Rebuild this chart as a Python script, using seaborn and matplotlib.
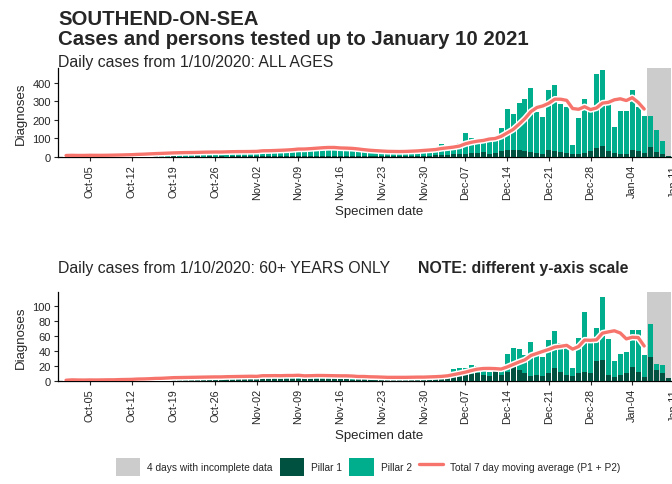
import numpy as np
import pandas as pd
import matplotlib
matplotlib.use("Agg")
import matplotlib.pyplot as plt
import matplotlib.patheffects as pe
from matplotlib.patches import Patch
from matplotlib.lines import Line2D
import seaborn as sns

# ---- data: daily diagnoses by specimen date, 1 Oct 2020 .. 10 Jan 2021 ----
start_date = "2020-10-01"
n_days = 102
incomplete_days = 4

all_pillar1 = [
    1, 1, 0, 1, 2, 1, 1, 1, 2, 1,
    2, 1, 2, 1, 2, 3, 2, 1, 3, 2,
    2, 2, 3, 2, 3, 2, 3, 2, 3, 3,
    4, 3, 5, 4, 3, 4, 5, 4, 6, 5,
    6, 5, 7, 6, 5, 6, 5, 4, 5, 4,
    4, 3, 4, 5, 4, 5, 4, 6, 5, 7,
    8, 8, 10, 12, 10, 14, 15, 18, 20, 22,
    25, 18, 20, 30, 38, 40, 36, 32, 28, 22,
    18, 38, 30, 25, 20, 15, 18, 22, 30, 50,
    58, 35, 20, 15, 18, 40, 32, 20, 55, 25,
    15, 4,
]
all_pillar2 = [
    7, 9, 7, 8, 10, 7, 8, 10, 12, 11,
    13, 17, 18, 15, 20, 22, 18, 23, 25, 24,
    20, 22, 27, 25, 25, 30, 22, 27, 27, 30,
    24, 28, 31, 43, 29, 34, 37, 34, 39, 53,
    42, 41, 48, 52, 45, 39, 35, 38, 31, 29,
    26, 25, 26, 21, 26, 27, 26, 28, 33, 33,
    36, 38, 40, 58, 48, 52, 63, 112, 83, 70,
    73, 92, 68, 127, 221, 194, 254, 281, 346, 219,
    200, 321, 358, 263, 250, 51, 195, 293, 220, 400,
    412, 265, 142, 235, 232, 319, 238, 200, 166, 123,
    73, 1,
]

old_pillar1 = [
    0, 1, 0, 0, 1, 0, 1, 0, 1, 0,
    1, 0, 1, 1, 1, 2, 1, 1, 2, 1,
    1, 2, 1, 2, 2, 1, 2, 2, 1, 2,
    2, 2, 3, 2, 2, 3, 2, 3, 2, 3,
    2, 3, 3, 2, 2, 3, 2, 2, 1, 2,
    2, 2, 1, 2, 1, 1, 2, 2, 1, 2,
    2, 2, 3, 3, 4, 6, 7, 8, 9, 10,
    8, 7, 14, 8, 12, 20, 14, 10, 6, 8,
    6, 10, 17, 12, 8, 6, 10, 12, 10, 26,
    28, 8, 5, 8, 10, 18, 12, 5, 32, 14,
    10, 4,
]
old_pillar2 = [
    1, 1, 1, 1, 1, 1, 1, 2, 1, 3,
    1, 3, 3, 2, 3, 3, 3, 4, 4, 4,
    3, 3, 5, 3, 4, 6, 3, 4, 5, 5,
    4, 5, 3, 9, 4, 4, 4, 5, 5, 5,
    4, 4, 6, 4, 5, 3, 5, 4, 4, 3,
    4, 2, 4, 3, 3, 4, 3, 4, 4, 4,
    3, 4, 4, 5, 7, 10, 10, 9, 12, 10,
    6, 5, 0, 5, 24, 24, 29, 25, 46, 25,
    26, 44, 49, 38, 36, 11, 47, 80, 42, 44,
    84, 48, 22, 28, 28, 49, 55, 29, 43, 8,
    11, 0,
]

tick_days = list(range(4, 103, 7))          # Mondays, Oct-05 .. Jan-11

# ---- style ----
P1_COL = "#00513F"
P2_COL = "#00AE8D"
GREY = "#CCCCCC"
LINE_COL = "#F6746C"
TXT = "#262626"

sns.set_style("ticks")
plt.rcParams["font.family"] = ["Liberation Sans", "DejaVu Sans"]

dates = pd.date_range(start_date, periods=n_days + 2)
day = np.arange(n_days)

W, H = 672, 485
fig = plt.figure(figsize=(W / 100, H / 100), dpi=100)

X_LEFT, X_RIGHT = -1.35, 106.3
AX_L = 58 / W
AX_W = ((X_RIGHT - X_LEFT) * 5.96) / W


def panel(top_px, bottom_px):
    return fig.add_axes([AX_L, 1 - bottom_px / H, AX_W, (bottom_px - top_px) / H])


def draw(ax, p1, p2, ymax, yticks):
    df = pd.DataFrame({"day": day, "p1": p1, "p2": p2})
    df["total"] = df["p1"] + df["p2"]
    complete = df.iloc[: n_days - incomplete_days]
    ma = complete["total"].rolling(7, min_periods=1).mean()

    ax.axvspan(n_days - incomplete_days - 0.5, n_days - 0.5, color=GREY, lw=0, zorder=0)
    sns.barplot(data=df, x="day", y="total", native_scale=True, color=P2_COL,
                saturation=1, width=0.84, errorbar=None, linewidth=0, ax=ax, zorder=2)
    sns.barplot(data=df, x="day", y="p1", native_scale=True, color=P1_COL,
                saturation=1, width=0.84, errorbar=None, linewidth=0, ax=ax, zorder=3)
    sns.lineplot(x=complete["day"].to_numpy(), y=ma.to_numpy(), color=LINE_COL, lw=2.4,
                 ax=ax, zorder=4,
                 path_effects=[pe.Stroke(linewidth=4.6, foreground="white"), pe.Normal()])

    ax.set_xlim(X_LEFT, X_RIGHT)
    ax.set_ylim(0, ymax)
    ax.set_yticks(yticks)
    ax.set_xticks(tick_days)
    ax.set_xticklabels([dates[d].strftime("%b-%d") for d in tick_days],
                       rotation=90, fontsize=7.8, color=TXT)
    ax.tick_params(axis="y", labelsize=8, labelcolor=TXT)
    ax.tick_params(length=3, width=0.8, color=TXT, pad=2)
    ax.set_xlabel("Specimen date", fontsize=9.5, color=TXT, labelpad=4)
    ax.set_ylabel("Diagnoses", fontsize=9.5, color=TXT, labelpad=4)
    for s in ("top", "right"):
        ax.spines[s].set_visible(False)
    for s in ("left", "bottom"):
        ax.spines[s].set_linewidth(0.9)
        ax.spines[s].set_color("black")


ax1 = panel(69, 158)
draw(ax1, all_pillar1, all_pillar2, 480, [0, 100, 200, 300, 400])

ax2 = panel(293, 382)
draw(ax2, old_pillar1, old_pillar2, 118, [0, 20, 40, 60, 80, 100])

# ---- titles ----
x0 = 58 / W
fig.text(x0, 1 - 25 / H, "SOUTHEND-ON-SEA", fontsize=14.7, fontweight="bold", va="baseline")
fig.text(x0, 1 - 45 / H, "Cases and persons tested up to January 10 2021",
         fontsize=14.7, fontweight="bold", va="baseline")
fig.text(x0, 1 - 67 / H, "Daily cases from 1/10/2020: ALL AGES", fontsize=11.4, va="baseline")
fig.text(x0, 1 - 273 / H, "Daily cases from 1/10/2020: 60+ YEARS ONLY", fontsize=11.4,
         va="baseline")
fig.text(418 / W, 1 - 273 / H, "NOTE: different y-axis scale", fontsize=11.4,
         fontweight="bold", va="baseline")

# ---- legend ----
handles = [
    Patch(facecolor=GREY, edgecolor="none"),
    Patch(facecolor=P1_COL, edgecolor="none"),
    Patch(facecolor=P2_COL, edgecolor="none"),
    Line2D([], [], color=LINE_COL, lw=2.4),
]
labels = ["4 days with incomplete data", "Pillar 1", "Pillar 2",
          "Total 7 day moving average (P1 + P2)"]
fig.legend(handles, labels, loc="center", bbox_to_anchor=(368 / W, 1 - 468 / H),
           ncol=4, frameon=False, fontsize=7.3, handlelength=2.4, handleheight=2.4,
           handletextpad=0.7, columnspacing=0.7, labelcolor=TXT)

fig.savefig("out.png", dpi=100)
